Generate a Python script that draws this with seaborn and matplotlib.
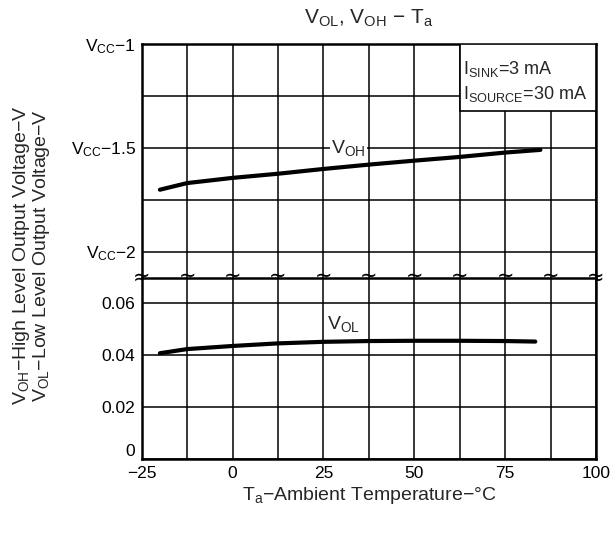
import matplotlib
matplotlib.use("Agg")
import matplotlib.pyplot as plt
import seaborn as sns
import numpy as np
import pandas as pd
from matplotlib.patches import Rectangle

# Valores
temp_voh = [-20, -12.5, 0, 12.5, 25, 37.5, 50, 62.5, 75, 84.7]
voh = [-1.702, -1.670, -1.645, -1.625, -1.602, -1.581, -1.562, -1.544, -1.523, -1.51]  # V - Vcc
temp_vol = [-20, -12.5, 0, 12.5, 25, 37.5, 50, 62.5, 75, 83.3]
vol = [0.0408, 0.0424, 0.0436, 0.0446, 0.0452, 0.0455, 0.0456, 0.0456, 0.0455, 0.0453]

x_grid = np.arange(-25, 100.1, 12.5)
x_ticks_lab = {-25: "\u221225", 0: "0", 25: "25", 50: "50", 75: "75", 100: "100"}
top_ticks = [-2, -1.75, -1.5, -1.25, -1]
top_labels = [r"V$_{CC}$$-$2", "", r"V$_{CC}$$-$1.5", "", r"V$_{CC}$$-$1"]
bot_ticks = [0, 0.02, 0.04, 0.06]
bot_labels = ["0", "0.02", "0.04", "0.06"]

sns.set_theme(style="white")
plt.rcParams['font.family'] = ['Liberation Sans', 'DejaVu Sans']
plt.rcParams['mathtext.default'] = 'regular'

fig = plt.figure(figsize=(6.13, 5.34), dpi=100)
ax_top = fig.add_axes([0.2312, 0.4803, 0.7411, 0.4373])
ax_bot = fig.add_axes([0.2312, 0.1404, 0.7411, 0.3399])

df_oh = pd.DataFrame({'T': temp_voh, 'V': voh})
df_ol = pd.DataFrame({'T': temp_vol, 'V': vol})
sns.lineplot(data=df_oh, x='T', y='V', ax=ax_top, color='black', lw=3, zorder=5)
sns.lineplot(data=df_ol, x='T', y='V', ax=ax_bot, color='black', lw=3, zorder=5)

for ax in (ax_top, ax_bot):
    ax.set_xlim(-25, 100)
    ax.set_xticks(x_grid)
    ax.grid(True, color='black', lw=1.1)
    ax.tick_params(length=0, labelsize=12.5, colors='black', pad=4)
    ax.set_xlabel("")
    ax.set_ylabel("")
    for s in ax.spines.values():
        s.set_color('black')
        s.set_linewidth(1.8)

ax_top.set_ylim(-2.125, -1)
ax_top.set_yticks(top_ticks)
ax_top.set_yticklabels(top_labels)
ax_top.set_xticklabels([])
ax_top.spines['bottom'].set_visible(False)

ax_bot.set_ylim(0, 0.07)
ax_bot.set_yticks(bot_ticks)
ax_bot.set_yticklabels(bot_labels)
ax_bot.set_xticklabels([x_ticks_lab.get(v, "") for v in x_grid])
ax_bot.tick_params(axis='x', pad=5)
ax_bot.tick_params(axis='y', pad=5)
ax_bot.get_yticklabels()[0].set_va('bottom')

# marcas de quebra do eixo
for xv in x_grid:
    ax_top.text(xv, 0, "\u2248", transform=ax_top.get_xaxis_transform(), ha='center', va='center',
                fontsize=15, color='black', clip_on=False, zorder=6, family='DejaVu Sans')

# caixa de condições
ax_top.add_patch(Rectangle((62.5, -1.321), 37.5, 0.321, facecolor='white', edgecolor='black',
                           lw=1.2, zorder=4))
ax_top.text(63.5, -1.12, r"I$_{SINK}$=3 mA", fontsize=13, va='center', ha='left', zorder=6)
ax_top.text(63.5, -1.241, r"I$_{SOURCE}$=30 mA", fontsize=13, va='center', ha='left', zorder=6)

# rótulos das curvas
ax_top.text(31.9, -1.5, r"V$_{OH}$", fontsize=14, ha='center', va='center', zorder=6,
            bbox=dict(facecolor='white', edgecolor='none', pad=1))
ax_bot.text(30.5, 0.052, r"V$_{OL}$", fontsize=14, ha='center', va='center', zorder=6)

fig.text(0.602, 0.966, r"V$_{OL}$, V$_{OH}$ $-$ T$_a$", fontsize=15, ha='center', va='center')
fig.text(0.602, 0.072, r"T$_a$$-$Ambient Temperature$-$°C", fontsize=14, ha='center', va='center')
fig.text(0.035, 0.522, r"V$_{OH}$$-$High Level Output Voltage$-$V", fontsize=14,
         rotation=90, ha='center', va='center')
fig.text(0.068, 0.522, r"V$_{OL}$$-$Low Level Output Voltage$-$V", fontsize=14,
         rotation=90, ha='center', va='center')

fig.savefig("out.png", dpi=100)
